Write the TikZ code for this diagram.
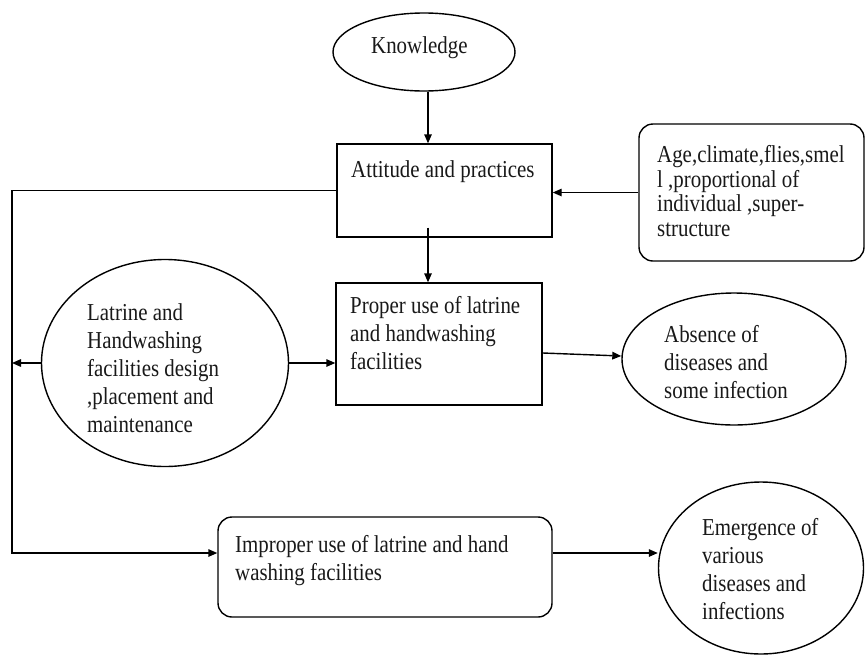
\documentclass[tikz,border=0pt]{standalone}
\usepackage{fontspec}
\setmainfont[FakeStretch=0.86]{Liberation Serif}
\usetikzlibrary{arrows.meta,shapes.geometric,calc}
\begin{document}
\begin{tikzpicture}[x=1pt,y=-1pt,
  shp/.style={draw=black,line width=1.4pt,inner sep=0pt},
  ell/.style={shp,ellipse},
  box/.style={shp,rectangle},
  rbox/.style={shp,rectangle,rounded corners=14pt},
  arr/.style={line width=1.4pt,-{Triangle[length=9pt,width=7.5pt]}},
  txt/.style={anchor=north west,inner sep=0pt,align=left,text=black!90,font=\fontsize{24.3}{28}\selectfont},
  txtb/.style={txt,font=\fontsize{24.3}{24.7}\selectfont}
]
\useasboundingbox[fill=white] (0,0) rectangle (866,656);
% shapes
\node[ell,minimum width=182pt,minimum height=78pt] (know) at (424,52) {};
\node[box,minimum width=215pt,minimum height=93pt] (att) at (444.5,190.5) {};
\node[rbox,minimum width=225pt,minimum height=137pt] (age) at (751.5,192.5) {};
\node[box,minimum width=206pt,minimum height=122pt] (prop) at (439,344) {};
\node[ell,minimum width=247pt,minimum height=207pt] (lat) at (165,363) {};
\node[ell,minimum width=224pt,minimum height=132pt] (abs) at (734,359) {};
\node[rbox,minimum width=334pt,minimum height=100pt] (imp) at (385,567) {};
\node[ell,minimum width=205pt,minimum height=172pt] (emer) at (761,568) {};
% texts
\node[txt] (tknow) at (371,36.5) {Knowledge};
\node[txt] (tatt) at (351,160) {Attitude and practices};
\node[txtb] (tage) at (657,145) {Age,climate,flies,smel\\l ,proportional of\\individual ,super-\\structure};
\node[txt] (tprop) at (350,296.5) {Proper use of latrine\\and handwashing\\facilities};
\node[txt] (tlat) at (87,303) {Latrine and\\Handwashing\\facilities design\\,placement and\\maintenance};
\node[txt] (tabs) at (664,325.5) {Absence of\\diseases and\\some infection};
\node[txt] (timp) at (235,535) {Improper use of latrine and hand\\washing facilities};
\node[txt] (temer) at (702,518.5) {Emergence of\\various\\diseases and\\infections};
% connectors
\coordinate (lx) at (12,191);
\coordinate (kx) at ($(know.south)+(4,0)$);
\draw[arr] (kx) -- (kx |- att.north);
\draw[arr] ($(kx |- att.south)+(0,-10)$) -- (kx |- prop.north);
\draw[arr] (age.west) -- (age.west -| att.east);
\coordinate (impin) at ($(imp.west)+(0,-14)$);
\draw[arr] (att.west) -| (lx |- impin) -- (impin);
\draw[arr] (lat.west) -- (lat.west -| lx);
\draw[arr] (lat.east) -- (lat.east -| prop.west);
\draw[arr] ($(prop.east)+(0,9)$) -- ($(abs.west)+(0,-3)$);
\coordinate (impout) at ($(imp.east)+(0,-14)$);
\draw[arr] (impout) -- (impout -| emer.west);
\end{tikzpicture}
\end{document}
